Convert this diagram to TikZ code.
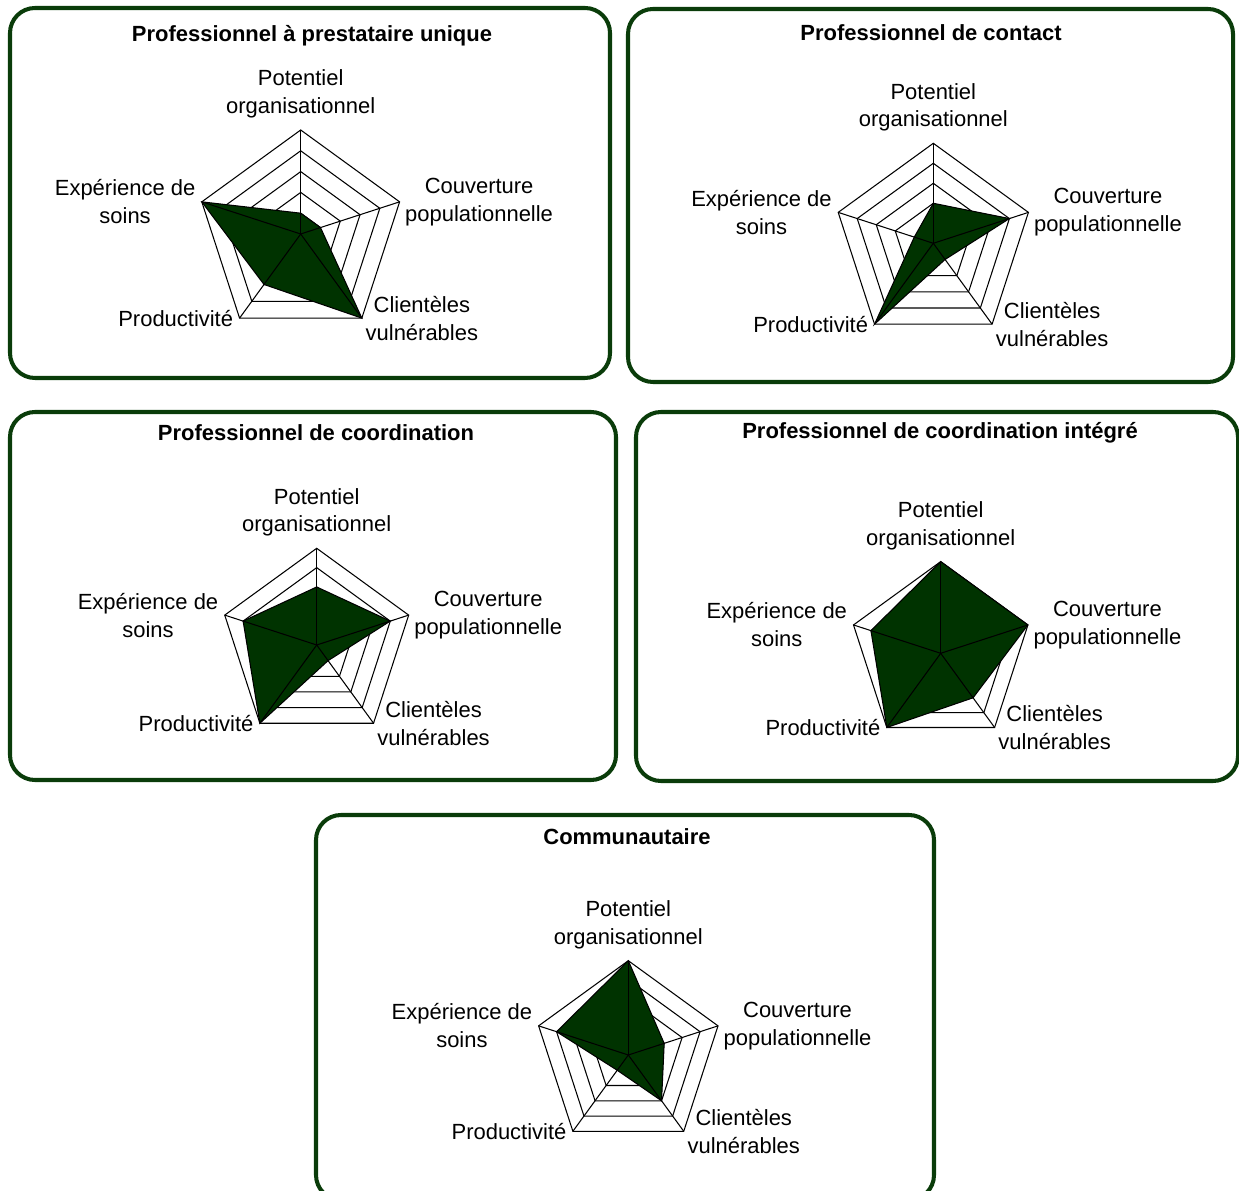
\documentclass[tikz,border=0pt]{standalone}
\usepackage{fontspec}
\setmainfont{Liberation Sans}
\usepackage{tikz}
\usetikzlibrary{positioning,calc}

\definecolor{vertfonce}{RGB}{0,51,0}
\definecolor{vertcadre}{RGB}{10,60,10}
\tikzset{
	cadre/.style = {draw=vertcadre, line width=2.3pt, rounded corners=0.5cm},
	titre/.style = {font=\fontsize{12.5}{15.9}\selectfont\bfseries},
	etiq/.style = {font=\fontsize{12.5}{15.9}\selectfont, align=center, inner sep=2pt},
	grille/.style = {black, line width=0.6pt}
}

\begin{document}
\begin{tikzpicture}[x=0.02cm, y=0.02cm]
	\useasboundingbox (0,0) rectangle (1239,1190);
	\foreach \n/\xa/\ya/\xb/\yb/\xt/\yt/\txt in {1/10/1182/610/812/312/1154/Professionnel à prestataire unique,
		2/628/1181/1233/808/931/1157/Professionnel de contact,
		3/10/778/616/410/316/757/Professionnel de coordination,
		4/636/778/1238/409/940/757/Professionnel de coordination intégré,
		5/316/375/934/-10/627/353/Communautaire}          % Cadres et titres
	{
		\draw[cadre] (\xa,\ya) rectangle (\xb,\yb);
		\node[titre] (t\n) at (\xt,\yt) {\txt};
	}
	% centre x / centre y / rayon / potentiel / couverture / clienteles / productivite / experience
	\foreach \n/\cx/\cy/\rad/\vp/\vc/\vv/\vr/\ve in {1/300.7/956/104/1/1/5/3/5,
		2/933.3/946.7/100/2/4/1/5/1,
		3/316.7/545/96.7/3/4/1/5/4,
		4/940.7/536.7/91.7/5/5/3/5/4,
		5/628.3/135/94.3/5/2/3/1/4}
	{
		\begin{scope}[shift={(\cx,\cy)}]
			\foreach \k in {1,...,5}                       % Grille
				\draw[grille] (90:{\k*\rad/5}) -- (18:{\k*\rad/5}) -- (-54:{\k*\rad/5}) -- (-126:{\k*\rad/5}) -- (162:{\k*\rad/5}) -- cycle;
			\draw[grille, fill=vertfonce] (90:{\vp*\rad/5}) -- (18:{\vc*\rad/5}) -- (-54:{\vv*\rad/5}) -- (-126:{\vr*\rad/5}) -- (162:{\ve*\rad/5}) -- cycle;
			\coordinate (c\n) at (0,0);
			\foreach \ang in {90,18,-54,-126,162}          % Axes
				\draw[grille] (c\n) -- (\ang:\rad);
			\node[etiq, above=4.5pt] (pot\n) at (90:\rad) {Potentiel\\organisationnel};
			\node[etiq, right=1pt] (cou\n) at (18:\rad) {Couverture\\populationnelle};
			\node[etiq, right=0pt] (cli\n) at (-54:\rad) {Clientèles\\vulnérables};
			\node[etiq, left=1.5pt] (pro\n) at (-126:\rad) {Productivité};
			\node[etiq, left=1.5pt] (exp\n) at (162:\rad) {Expérience de\\soins};
		\end{scope}
	}
\end{tikzpicture}
\end{document}
